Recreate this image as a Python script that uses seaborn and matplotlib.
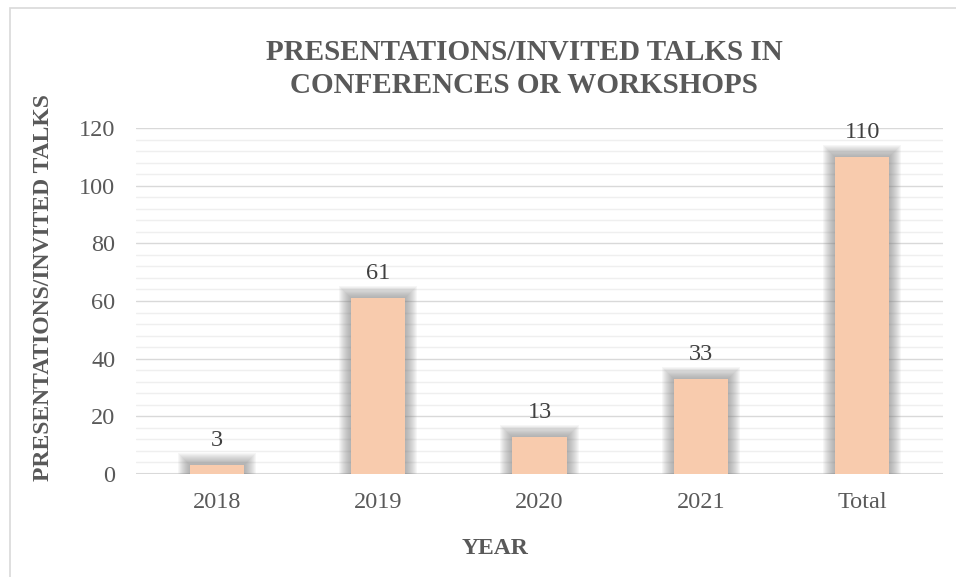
import matplotlib
matplotlib.use("Agg")
import matplotlib.pyplot as plt
import seaborn as sns
import pandas as pd
import numpy as np
from matplotlib.patches import Rectangle

categories = ["2018", "2019", "2020", "2021", "Total"]
values = [3, 61, 13, 33, 110]
yticks = [0, 20, 40, 60, 80, 100, 120]

title_text = "PRESENTATIONS/INVITED TALKS IN\nCONFERENCES OR WORKSHOPS"
ylabel_text = "PRESENTATIONS/INVITED TALKS"
xlabel_text = "YEAR"

sns.set_theme(style="white")
plt.rcParams["font.family"] = ["Liberation Serif", "DejaVu Serif"]

df = pd.DataFrame({"year": categories, "count": values})

fig = plt.figure(figsize=(9.56, 5.77), dpi=100)
ax = fig.add_axes([136 / 956, 1 - 474 / 577, (943 - 136) / 956, (474 - 128) / 577])

bar_w = 0.335
px_x = 1 / 161.4          # one pixel in category units
px_y = 120 / 346.0        # one pixel in value units

# soft grey glow behind the bars
for k in range(12, 0, -1):
    sns.barplot(data=df.assign(count=df["count"] + k * px_y), x="year", y="count",
                color="#808080", alpha=0.065, width=bar_w + 2 * k * px_x,
                saturation=1, ax=ax, errorbar=None, zorder=2, linewidth=0)

sns.barplot(data=df, x="year", y="count", color="#F8CBAD", saturation=1,
            width=bar_w, ax=ax, errorbar=None, zorder=3, linewidth=0)

ax.set_ylim(0, 120)
ax.set_xlim(-0.5, len(categories) - 0.5)
ax.set_yticks(yticks)
ax.set_yticks(np.arange(0, 121, 4), minor=True)
ax.grid(which="major", axis="y", color="#D9D9D9", linewidth=1.0, zorder=0)
ax.grid(which="minor", axis="y", color="#EFEFEF", linewidth=1.0, zorder=0)
ax.set_axisbelow(True)
for s in ax.spines.values():
    s.set_visible(False)
ax.axhline(0, color="#D9D9D9", linewidth=1.5, zorder=1)

ax.tick_params(axis="both", which="both", length=0, labelsize=17.5, labelcolor="#595959")
ax.tick_params(axis="x", pad=13)
ax.tick_params(axis="y", pad=15)
ax.set_xlabel("")
ax.set_ylabel("")

for i, v in enumerate(values):
    ax.annotate(str(v), xy=(i, v), xytext=(0, 14), textcoords="offset pixels",
                ha="center", va="bottom", fontsize=17.5, color="#404040")

fig.text(524 / 956, 1 - 69 / 577, title_text, ha="center", va="center",
         fontsize=21, fontweight="bold", color="#595959", linespacing=1.25)
fig.text(44 / 956, 1 - 288 / 577, ylabel_text, ha="center", va="center",
         rotation=90, fontsize=17, fontweight="bold", color="#595959")
fig.text(495 / 956, 1 - 548 / 577, xlabel_text, ha="center", va="center",
         fontsize=17, fontweight="bold", color="#595959")

fig.patches.append(Rectangle((10 / 956, -0.05), 1.2, 1 - 8 / 577 + 0.05,
                             transform=fig.transFigure, fill=False,
                             edgecolor="#D9D9D9", linewidth=1.2))

fig.savefig("out.png", dpi=100)
